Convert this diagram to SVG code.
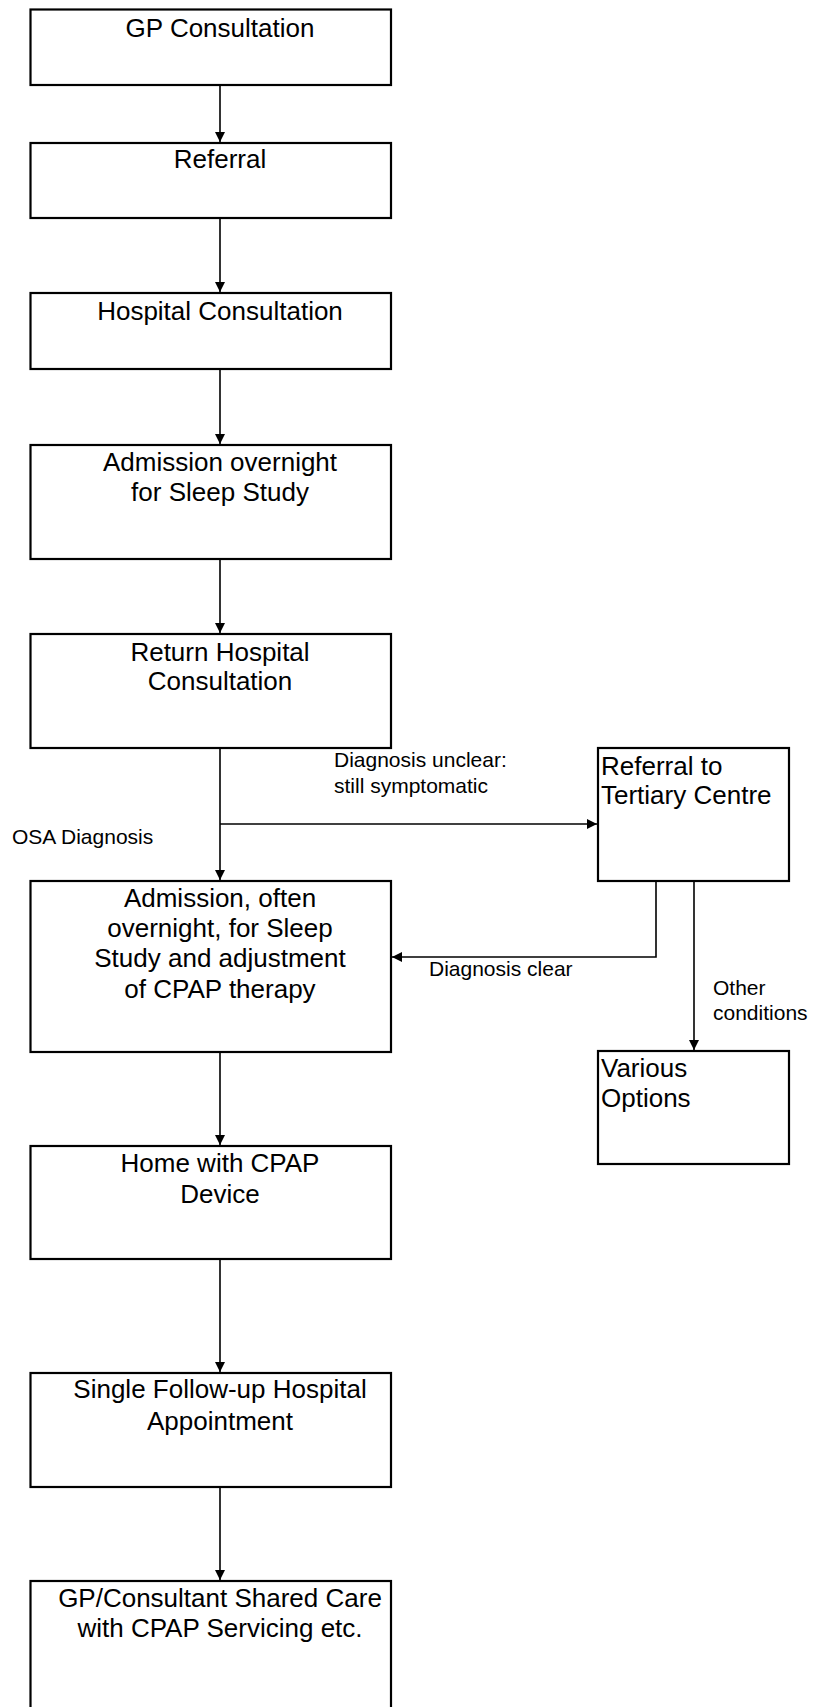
<svg xmlns="http://www.w3.org/2000/svg" width="820" height="1707" viewBox="0 0 820 1707">
<style>
.box{fill:#fff;stroke:#000;stroke-width:2.2}
.t{font-family:"Liberation Sans",Arial,sans-serif;font-size:26px;fill:#000}
.c{text-anchor:middle}
.l{font-family:"Liberation Sans",Arial,sans-serif;font-size:21px;fill:#000}
.e{fill:none;stroke:#000;stroke-width:1.6}
</style>
<defs>
<marker id="ah" viewBox="0 0 10 10" refX="10" refY="5" markerWidth="10" markerHeight="10" markerUnits="userSpaceOnUse" orient="auto">
<path d="M0,0 L10,5 L0,10 Z" fill="#000"/>
</marker>
</defs>
<rect width="820" height="1707" fill="#fff"/>
<g id="connectors">
<line class="e" x1="220" y1="85" x2="220" y2="142" marker-end="url(#ah)"/>
<line class="e" x1="220" y1="218" x2="220" y2="292" marker-end="url(#ah)"/>
<line class="e" x1="220" y1="369" x2="220" y2="444" marker-end="url(#ah)"/>
<line class="e" x1="220" y1="559" x2="220" y2="633" marker-end="url(#ah)"/>
<line class="e" x1="220" y1="748" x2="220" y2="880" marker-end="url(#ah)"/>
<line class="e" x1="220" y1="824" x2="597" y2="824" marker-end="url(#ah)"/>
<polyline class="e" points="656,881 656,957 392,957" marker-end="url(#ah)"/>
<line class="e" x1="694" y1="881" x2="694" y2="1050" marker-end="url(#ah)"/>
<line class="e" x1="220" y1="1052" x2="220" y2="1145" marker-end="url(#ah)"/>
<line class="e" x1="220" y1="1259" x2="220" y2="1372" marker-end="url(#ah)"/>
<line class="e" x1="220" y1="1487" x2="220" y2="1580" marker-end="url(#ah)"/>
<text class="l" x="334" y="767">Diagnosis unclear:</text>
<text class="l" x="334" y="793">still symptomatic</text>
<text class="l" x="12" y="844">OSA Diagnosis</text>
<text class="l" x="429" y="976">Diagnosis clear</text>
<text class="l" x="713" y="995">Other</text>
<text class="l" x="713" y="1020">conditions</text>
</g>
<g id="n1"><rect class="box" x="30.5" y="9.5" width="360.5" height="75.5"/><text class="t c" x="220" y="37">GP Consultation</text></g>
<g id="n2"><rect class="box" x="30.5" y="143" width="360.5" height="75"/><text class="t c" x="220" y="168">Referral</text></g>
<g id="n3"><rect class="box" x="30.5" y="293" width="360.5" height="76"/><text class="t c" x="220" y="320">Hospital Consultation</text></g>
<g id="n4"><rect class="box" x="30.5" y="445" width="360.5" height="114"/><text class="t c" x="220" y="471">Admission overnight</text><text class="t c" x="220" y="501">for Sleep Study</text></g>
<g id="n5"><rect class="box" x="30.5" y="634" width="360.5" height="114"/><text class="t c" x="220" y="661">Return Hospital</text><text class="t c" x="220" y="690">Consultation</text></g>
<g id="n6"><rect class="box" x="30.5" y="881" width="360.5" height="171"/><text class="t c" x="220" y="907">Admission, often</text><text class="t c" x="220" y="937">overnight, for Sleep</text><text class="t c" x="220" y="967">Study and adjustment</text><text class="t c" x="220" y="998">of CPAP therapy</text></g>
<g id="n7"><rect class="box" x="598" y="748" width="191" height="133"/><text class="t" x="601" y="775">Referral to</text><text class="t" x="601" y="804">Tertiary Centre</text></g>
<g id="n8"><rect class="box" x="598" y="1051" width="191" height="113"/><text class="t" x="601" y="1077">Various</text><text class="t" x="601" y="1107">Options</text></g>
<g id="n9"><rect class="box" x="30.5" y="1146" width="360.5" height="113"/><text class="t c" x="220" y="1172">Home with CPAP</text><text class="t c" x="220" y="1203">Device</text></g>
<g id="n10"><rect class="box" x="30.5" y="1373" width="360.5" height="114"/><text class="t c" x="220" y="1398">Single Follow-up Hospital</text><text class="t c" x="220" y="1430">Appointment</text></g>
<g id="n11"><rect class="box" x="30.5" y="1581" width="360.5" height="140"/><text class="t c" x="220" y="1607">GP/Consultant Shared Care</text><text class="t c" x="220" y="1637">with CPAP Servicing etc.</text></g>
</svg>
